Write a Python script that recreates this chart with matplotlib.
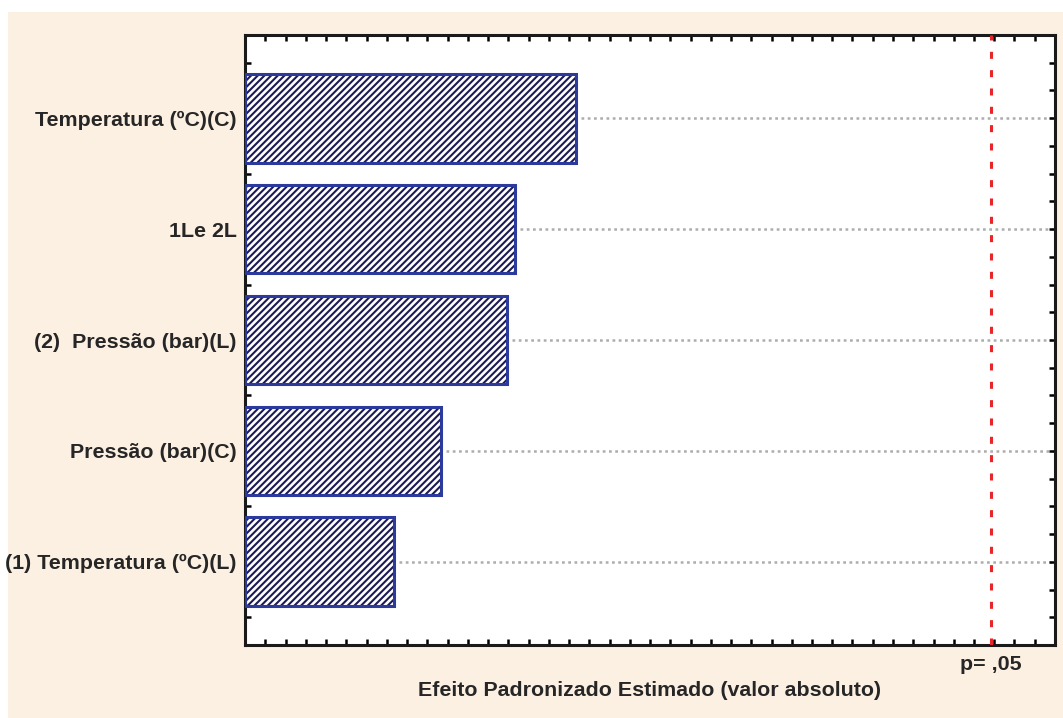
import matplotlib
matplotlib.use("Agg")
import matplotlib.pyplot as plt
from matplotlib.patches import Rectangle
from matplotlib.ticker import MultipleLocator, FixedLocator
import numpy as np

# dados (de baixo para cima)
fatores = ["(1) Temperatura (ºC)(L)", "Pressão (bar)(C)", "(2)  Pressão (bar)(L)",
           "1Le 2L", "Temperatura (ºC)(C)"]
efeitos = [0.552, 0.726, 0.970, 1.000, 1.226]
p_critico = 2.763
p_label = "p= ,05"
xlabel = "Efeito Padronizado Estimado (valor absoluto)"
xmax = 3.0

DPI = 100
FS = 15.4
TXT = "#262626"
plt.rcParams['font.family'] = ['Liberation Sans', 'DejaVu Sans']
plt.rcParams['hatch.linewidth'] = 1.5

fig = plt.figure(figsize=(1063 / DPI, 718 / DPI), dpi=DPI, facecolor="white")
# fundo bege
fig.patches.append(Rectangle((8 / 1063, 0), 1, (718 - 12) / 718,
                             transform=fig.transFigure, facecolor="#fcf0e3",
                             edgecolor="none", zorder=-10))

ax = fig.add_axes([245 / 1063, 1 - 645 / 718, 810 / 1063, 610 / 718])
ax.set_facecolor("white")

y = np.arange(len(fatores))

# linhas pontilhadas
for yi, v in zip(y, efeitos):
    ax.plot([v + 0.02, xmax], [yi, yi], color="#adadad", lw=1.8,
            linestyle=(0, (1.1, 1.4)), zorder=1)

# barras hachuradas + contorno
ax.barh(y, efeitos, height=0.8, color="white", edgecolor="#1c1a55",
        hatch="/////", linewidth=0, zorder=2)
ax.barh(y, efeitos, height=0.8, fill=False, edgecolor="#2b3a9c",
        linewidth=2.2, zorder=3)

ax.axvline(p_critico, color="#e8262a", lw=2.2, linestyle=(0, (2.3, 3.7)), zorder=4)

ax.set_xlim(0, xmax)
ax.set_ylim(-0.75, len(fatores) - 0.25)

ax.xaxis.set_major_locator(MultipleLocator(xmax / 40))
ax.xaxis.set_major_formatter(plt.NullFormatter())
ax.yaxis.set_major_locator(FixedLocator(y))
ax.yaxis.set_minor_locator(MultipleLocator(0.25))
ax.set_yticklabels(fatores, fontsize=FS, fontweight="bold", color=TXT)

ax.tick_params(axis="both", which="both", direction="in", length=4, width=1.8,
               color="black", top=True, right=True)
ax.tick_params(axis="y", which="major", pad=6)

for s in ax.spines.values():
    s.set_linewidth(2.2)
    s.set_color("#1a1a1a")

ax.text(p_critico, -(664 - 645) / 610, p_label, transform=ax.get_xaxis_transform(),
        ha="center", va="center", fontsize=FS, fontweight="bold", color=TXT)
ax.text(0.5, -(691 - 645) / 610, xlabel, transform=ax.transAxes,
        ha="center", va="center", fontsize=FS, fontweight="bold", color=TXT)

fig.savefig("out.png", dpi=DPI, facecolor=fig.get_facecolor())
